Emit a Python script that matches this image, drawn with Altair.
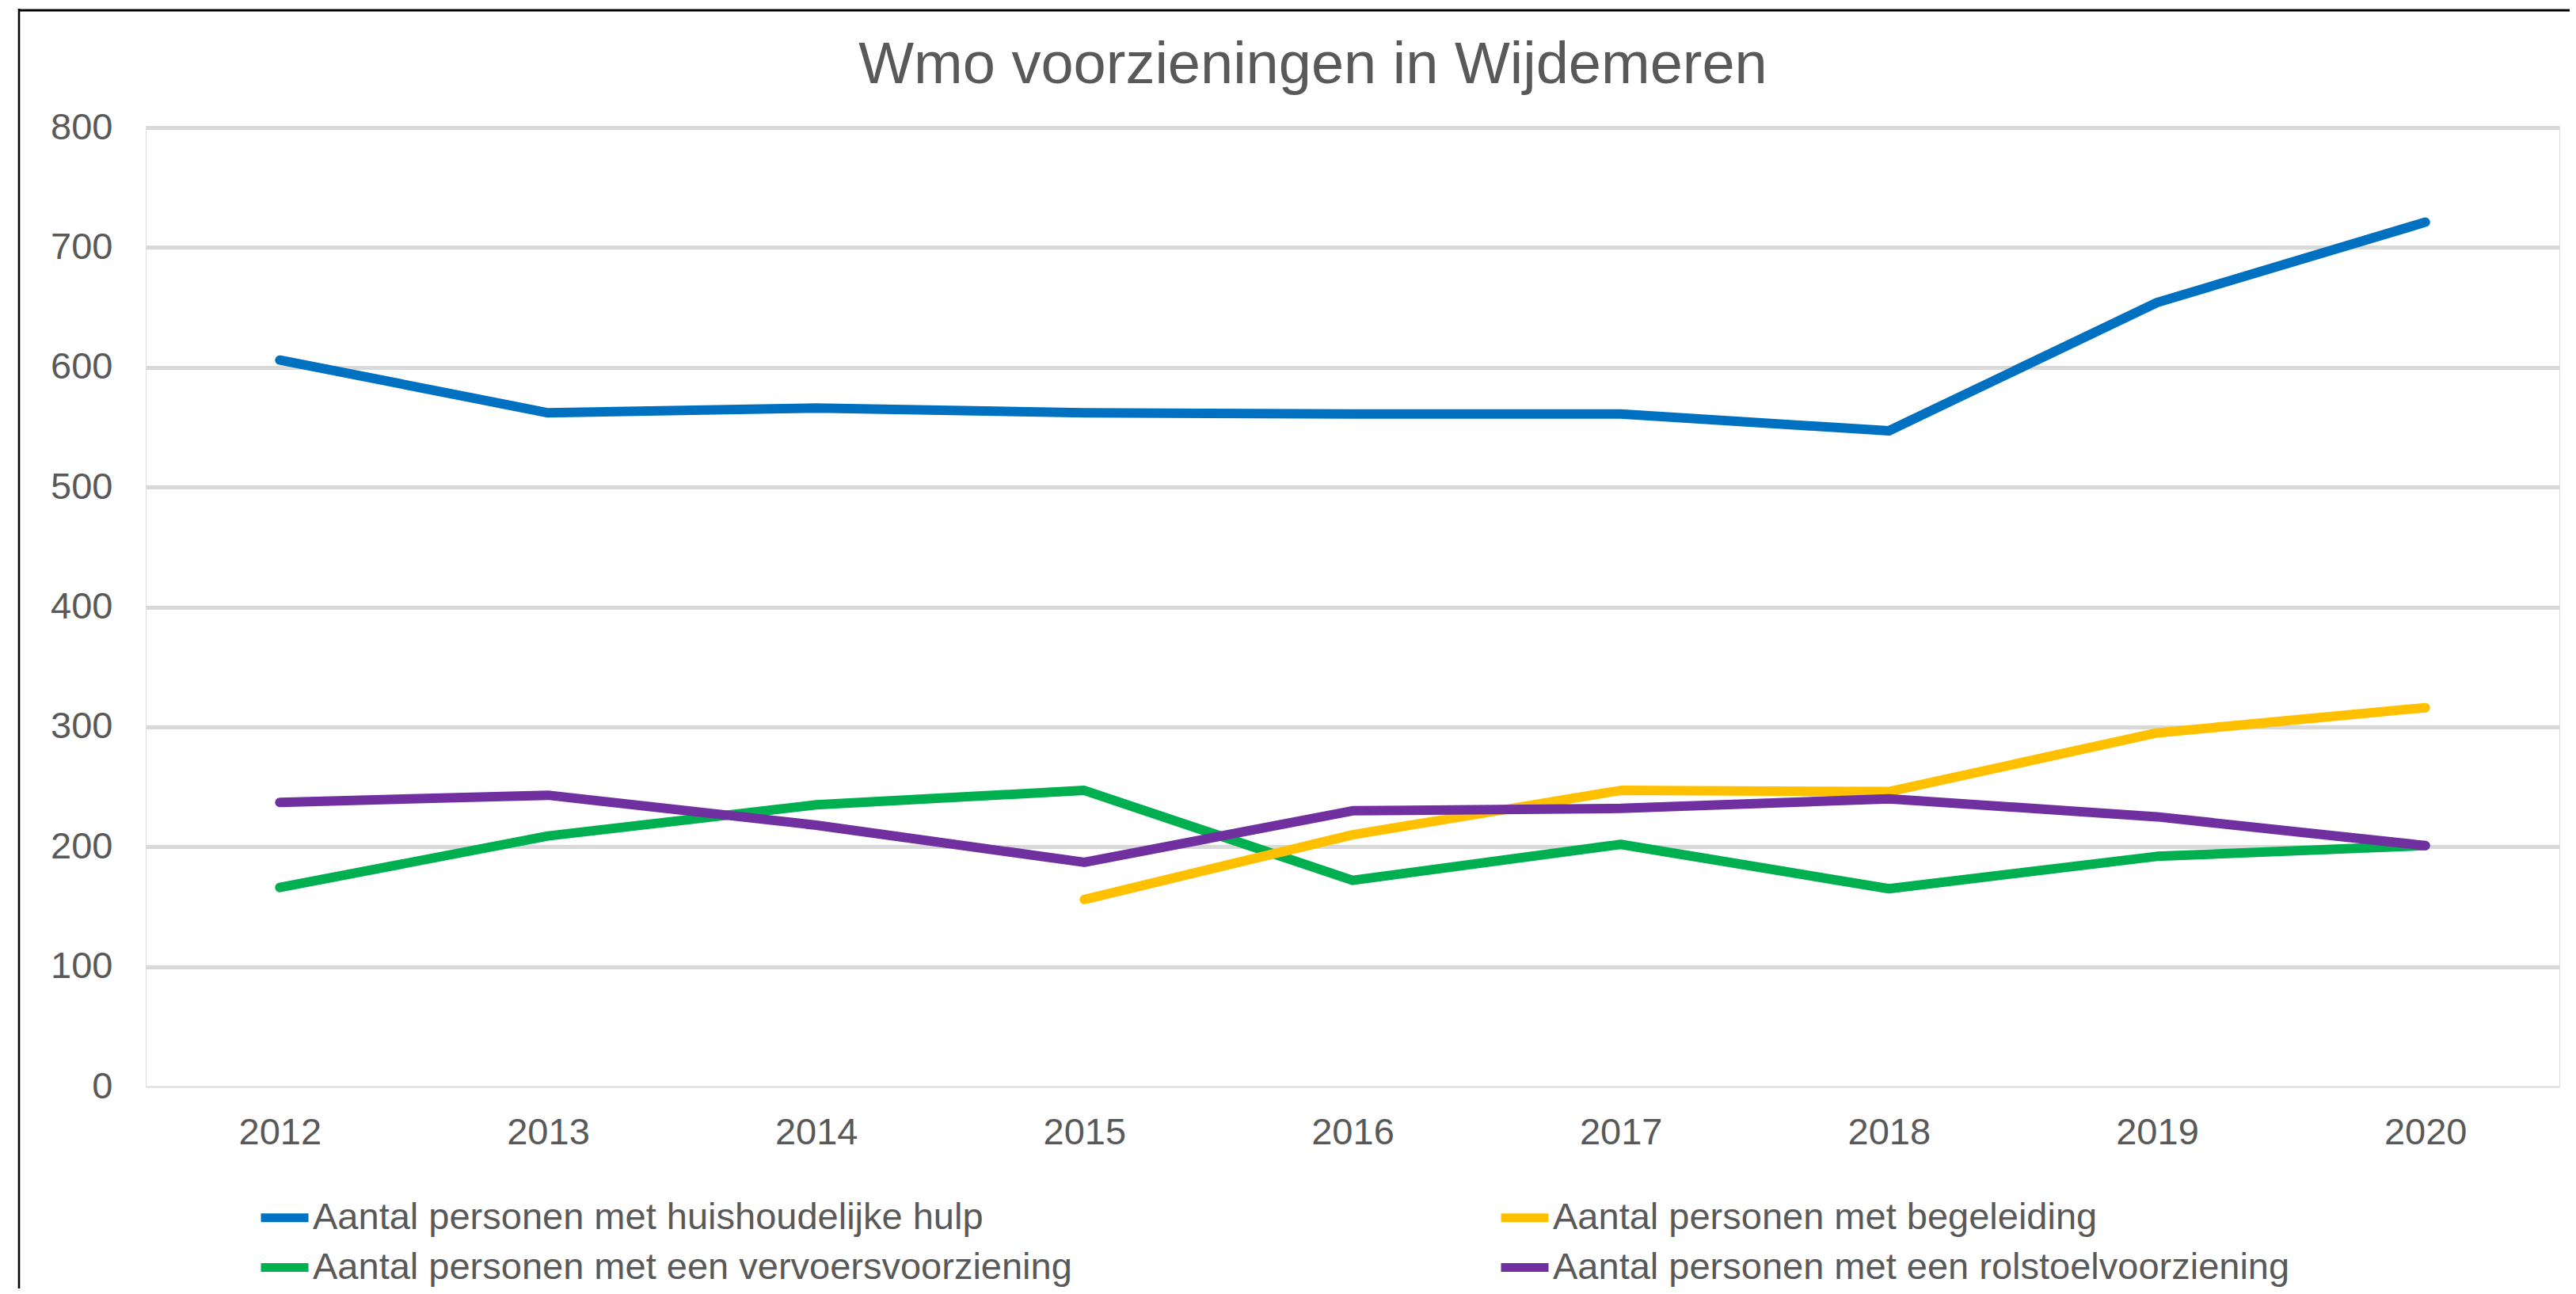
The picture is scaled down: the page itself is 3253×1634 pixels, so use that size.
import altair as alt
import pandas as pd

years = ["2012", "2013", "2014", "2015", "2016", "2017", "2018", "2019", "2020"]
series_names = [
    "Aantal personen met huishoudelijke hulp",
    "Aantal personen met een vervoersvoorziening",
    "Aantal personen met begeleiding",
    "Aantal personen met een rolstoelvoorziening",
]
huishoudelijke_hulp = [606, 562, 566, 562, 561, 561, 547, 654, 721]
vervoersvoorziening = [166, 209, 235, 247, 172, 202, 165, 192, 201]
begeleiding = [None, None, None, 156, 210, 247, 246, 295, 316]
rolstoelvoorziening = [237, 243, 218, 187, 230, 232, 240, 225, 201]
colors = ["#0070C0", "#00B050", "#FFC000", "#7030A0"]

rows = []
for name, vals in zip(series_names, [huishoudelijke_hulp, vervoersvoorziening, begeleiding, rolstoelvoorziening]):
    for y, v in zip(years, vals):
        if v is not None:
            rows.append({"jaar": y, "serie": name, "aantal": v})
df = pd.DataFrame(rows)

FONT = "Liberation Sans"
GREY = "#595959"

lines = alt.Chart(df).mark_line(strokeWidth=12, strokeCap="round", strokeJoin="round").encode(
    x=alt.X("jaar:O", sort=years, title=None,
            scale=alt.Scale(type="point", padding=0.5),
            axis=alt.Axis(labelAngle=0, labelFontSize=47, labelColor=GREY, labelFont=FONT,
                          labelPadding=35, ticks=False, domain=False, grid=False,
                          labelBaseline="top")),
    y=alt.Y("aantal:Q", title=None,
            scale=alt.Scale(domain=[0, 800], nice=False, zero=True),
            axis=alt.Axis(values=[0, 100, 200, 300, 400, 500, 600, 700, 800],
                          labelFontSize=47, labelColor=GREY, labelFont=FONT,
                          labelPadding=42, ticks=False, domain=False,
                          grid=True, gridColor="#D9D9D9",
                          gridWidth={"expr": "datum.value === 0 ? 2 : 5"})),
    color=alt.Color("serie:N", sort=series_names,
                    scale=alt.Scale(domain=series_names, range=colors),
                    legend=alt.Legend(title=None, orient="none", legendX=140, legendY=1341,
                                      columns=2, columnPadding=519, rowPadding=4,
                                      symbolType="stroke", symbolSize=3600,
                                      symbolStrokeWidth=11, labelOffset=0,
                                      labelFontSize=47, labelColor=GREY, labelFont=FONT,
                                      labelLimit=3000, padding=0)),
)

frame_df = pd.DataFrame({"k": [0]})
left_border = alt.Chart(frame_df).mark_rule(color="#000000", strokeWidth=2.5).encode(
    x=alt.value(-160), y=alt.value(-150), y2=alt.value(1600))
top_border = alt.Chart(frame_df).mark_rule(color="#000000", strokeWidth=3).encode(
    x=alt.value(-161), x2=alt.value(3200), y=alt.value(-148))

chart = alt.layer(lines, left_border, top_border).properties(
    width=3048, height=1211,
    padding={"left": 176, "top": 153, "right": 13, "bottom": 255},
    autosize=alt.AutoSizeParams(type="none"),
    title=alt.TitleParams("Wmo voorzieningen  in Wijdemeren", fontSize=74, font=FONT,
                          color=GREY, fontWeight="normal", anchor="middle",
                          frame="group", dx=-50, offset=0, dy=169.5, baseline="alphabetic"),
).configure_view(stroke="transparent", strokeWidth=0).configure(background="white")

chart.save("out.html", embed_options={"renderer": "svg", "actions": False})
